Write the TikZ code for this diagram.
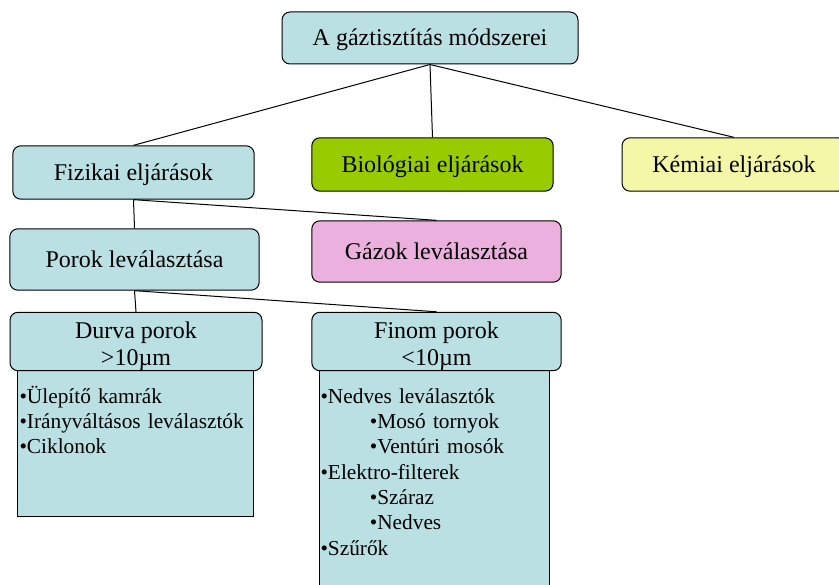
\documentclass[tikz,border=0pt]{standalone}
\usepackage{fontspec}
\setmainfont{Liberation Serif}
\definecolor{boxblue}{RGB}{187,224,227}
\definecolor{biogreen}{RGB}{153,204,0}
\definecolor{kemyellow}{RGB}{244,246,168}
\definecolor{gazpink}{RGB}{235,176,222}
\begin{document}
\begin{tikzpicture}[x=0.75pt, y=-0.75pt, line width=0.75pt,
  box/.style={draw, rounded corners=6pt, fill=boxblue, inner sep=0pt, align=center, font=\fontsize{18}{20}\selectfont},
  onebox/.style={box, text height=14pt, text depth=2pt},
  listbox/.style={draw, fill=boxblue, inner sep=0pt},
  listtext/.style={anchor=base west, align=left, text width=170pt, inner sep=0pt, font=\fontsize{16}{19}\selectfont}]
	\useasboundingbox (0,0) rectangle (839,585);
	\node[onebox, minimum width=222pt, minimum height=39pt] (root) at (430,38) {A gáztisztítás módszerei};
	\node[onebox, minimum width=181pt, minimum height=40pt] (fiz) at (133.5,172.5) {Fizikai eljárások};
	\node[onebox, fill=biogreen, minimum width=181pt, minimum height=40pt] (bio) at (432.5,164.5) {Biológiai eljárások};
	\node[onebox, fill=kemyellow, minimum width=168pt, minimum height=40pt] (kem) at (734,164.5) {Kémiai eljárások};
	\node[onebox, fill=gazpink, minimum width=187pt, minimum height=46pt] (gaz) at (436.5,251.5) {Gázok leválasztása};
	\node[onebox, minimum width=187pt, minimum height=46pt] (por) at (134.5,259.5) {Porok leválasztása};
	% listak
	\node[listbox, minimum width=177pt, minimum height=116pt] (durvabody) at (135,439.5) {};
	\node[listbox, minimum width=173pt, minimum height=188pt] (finombody) at (434.5,487) {};
	\node[listtext] (durvalist) at (19,403) {•Ülepítő kamrák\\•Irányváltásos leválasztók\\•Ciklonok};
	\node[listtext] (finomlist) at (320,403) {•Nedves leválasztók\\\hspace*{37pt}•Mosó tornyok\\\hspace*{37pt}•Ventúri mosók\\•Elektro-filterek\\\hspace*{37pt}•Száraz\\\hspace*{37pt}•Nedves\\•Szűrők};
	\node[box, minimum width=189pt, minimum height=43pt] (durva) at (136,341.5) {\rule{0pt}{20pt}Durva porok\\>10µm};
	\node[box, minimum width=187pt, minimum height=43pt] (finom) at (436.5,341.5) {\rule{0pt}{20pt}Finom porok\\<10µm};
	\draw (root.south) -- (fiz.north);
	\draw (root.south) -- (bio.north);
	\draw (root.south) -- (kem.north);
	\draw (fiz.south) -- (por.north);
	\draw (fiz.south) -- (gaz.north);
	\draw (por.south) -- (durva.north);
	\draw (por.south) -- (finom.north);
\end{tikzpicture}
\end{document}
